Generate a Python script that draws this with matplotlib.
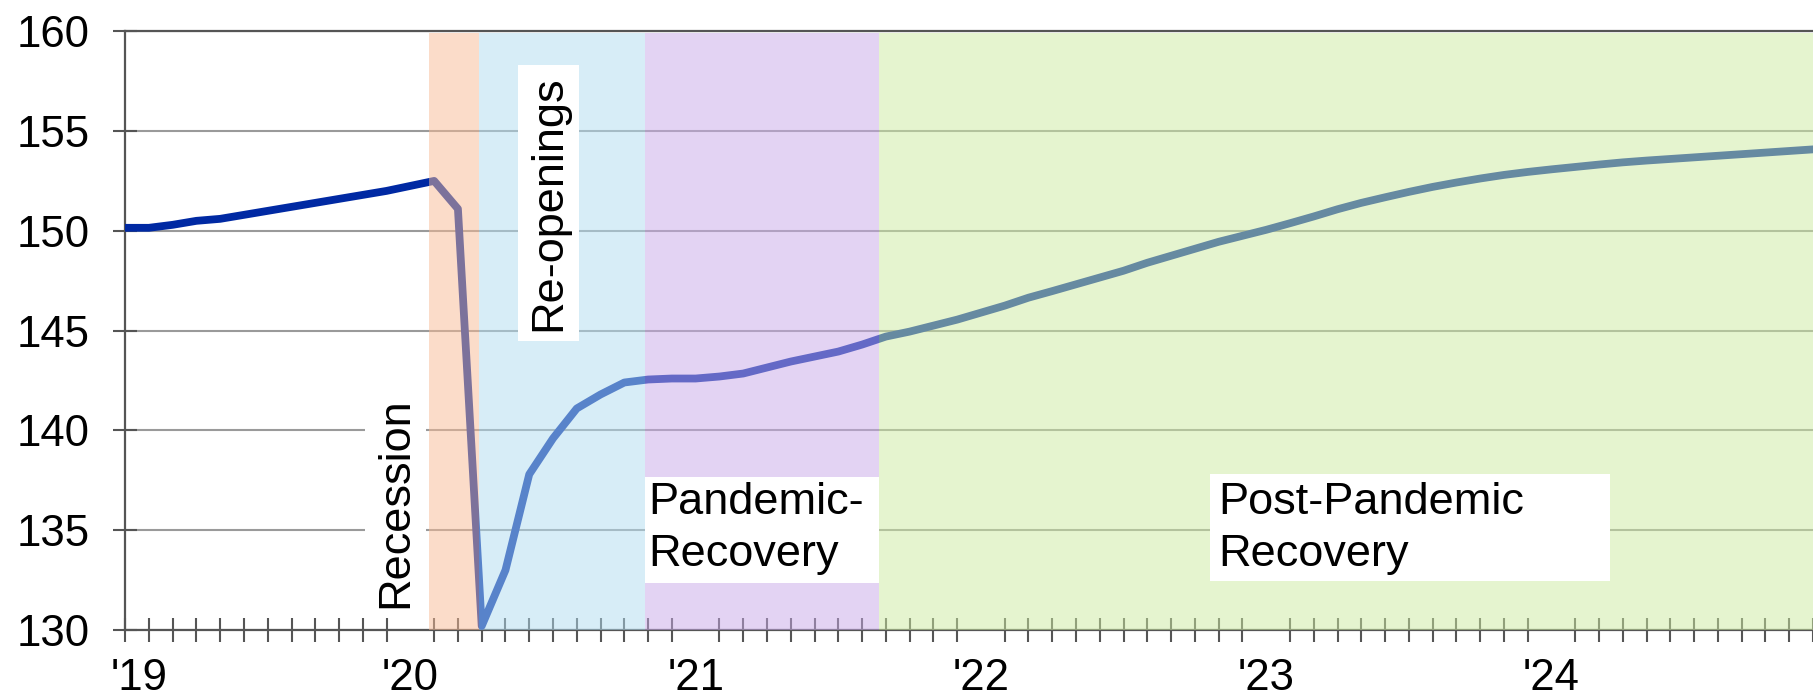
import numpy as np
import matplotlib
matplotlib.use('Agg')
import matplotlib.pyplot as plt
from matplotlib.patches import Rectangle

plt.rcParams['font.family'] = ['Liberation Sans', 'DejaVu Sans']

# monthly series, index 0 = Jan 2019
values = [
    150.15, 150.15, 150.3, 150.5, 150.6, 150.8, 151.0, 151.2, 151.4, 151.6, 151.8, 152.0,    # 2019
    152.25, 152.5, 151.1, 130.2, 133.0, 137.8, 139.6, 141.1, 141.8, 142.4, 142.55, 142.6,    # 2020
    142.6, 142.7, 142.85, 143.15, 143.45, 143.7, 143.95, 144.3, 144.7, 144.95, 145.25, 145.55,  # 2021
    145.9, 146.25, 146.65, 146.98, 147.32, 147.66, 148.0, 148.4, 148.75, 149.1, 149.45, 149.75,  # 2022
    150.05, 150.38, 150.72, 151.08, 151.4, 151.68, 151.95, 152.2, 152.42, 152.62, 152.8, 152.95,  # 2023
    153.08, 153.2, 153.32, 153.43, 153.52, 153.6, 153.68, 153.76, 153.84, 153.92, 154.0, 154.08,  # 2024
]
months = np.arange(len(values))

year_labels = ["'19", "'20", "'21", "'22", "'23", "'24"]
year_pos = [0.58, 12, 24, 36, 48, 60]

# phases (month index boundaries)
phase_names = ['Recession', 'Re-openings', 'Pandemic-\nRecovery', 'Post-Pandemic\nRecovery']
phase_start = [12.8, 14.9, 21.85, 31.7]
phase_end = [14.9, 21.85, 31.7, 72]
phase_colors = ['#f9bb95', '#b1ddf1', '#c9a9e9', '#cdeba1']

fig = plt.figure(figsize=(18.13, 7.0), dpi=100)
ax = fig.add_axes([0.069, 0.1, 0.931, 0.8554])

ax.plot(months, values, color='#0029a3', lw=5.6, zorder=2.6, solid_joinstyle='round')

# bands are semi-transparent and sit over the line, like the original
for s, e, c in zip(phase_start, phase_end, phase_colors):
    ax.axvspan(s, e, ymin=0, ymax=0.997, color=c, alpha=0.5, lw=0, zorder=3)

ax.set_xlim(0, 70.35)
ax.set_ylim(130, 160)
ax.set_yticks(np.arange(130, 161, 5))
ax.set_xticks(year_pos)
ax.set_xticklabels(year_labels)
ax.set_xticks(months, minor=True)

ax.set_axisbelow(True)
ax.yaxis.grid(True, color='#9a9a9a', lw=1.5)

ax.tick_params(axis='y', direction='inout', length=17, width=1.5, color='#555555',
               labelsize=31.5, pad=17)
ax.tick_params(axis='x', which='major', length=0, labelsize=31.5, pad=20.5)
ax.tick_params(axis='x', which='minor', direction='inout', length=17, width=1.5, color='#555555')

for side in ['left', 'bottom', 'top']:
    ax.spines[side].set_color('#555555')
    ax.spines[side].set_linewidth(1.6)
ax.spines['right'].set_visible(False)

box = dict(boxstyle='square,pad=0.22', fc='white', ec='none')
ax.text(11.37, 131.1, phase_names[0], rotation=90, ha='center', va='bottom',
        fontsize=32.5, bbox=box, zorder=5)
ax.text(17.8, 151.4, phase_names[1], rotation=90, ha='center', va='center',
        fontsize=32.5, bbox=box, zorder=5)

ax.add_patch(Rectangle((21.85, 132.37), 9.85, 5.31, fc='white', ec='none', zorder=4))
ax.text(22.0, 137.4, phase_names[2], ha='left', va='top', fontsize=32.5,
        linespacing=1.33, zorder=5)
ax.add_patch(Rectangle((45.65, 132.47), 16.8, 5.36, fc='white', ec='none', zorder=4))
ax.text(46.0, 137.4, phase_names[3], ha='left', va='top', fontsize=32.5,
        linespacing=1.33, zorder=5)

fig.savefig('out.png', dpi=100)
